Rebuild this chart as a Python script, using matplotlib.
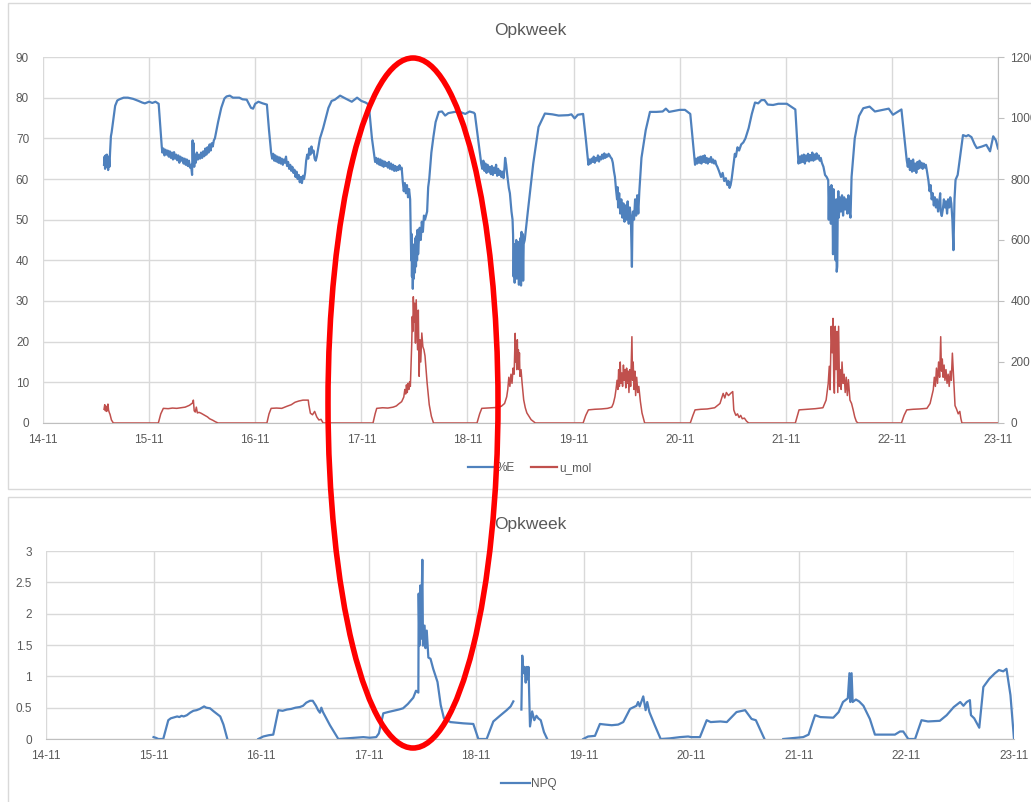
import numpy as np
import matplotlib
matplotlib.use("Agg")
import matplotlib.pyplot as plt
from matplotlib.lines import Line2D
from matplotlib.patches import Ellipse, Rectangle

# x axis: days after 14-11
date_labels = ["14-11", "15-11", "16-11", "17-11", "18-11",
               "19-11", "20-11", "21-11", "22-11", "23-11"]
title = "Opkweek"

# %E (left axis) as (day, value)
pct_e = [
    (0.575, 63.5), (0.580, 65.5), (0.585, 62.5), (0.590, 65.8), (0.596, 63.0), (0.602, 66.0),
    (0.608, 64.0), (0.614, 62.2), (0.620, 65.5), (0.626, 63.0), (0.632, 66.5),
    (0.640, 70.5), (0.647, 71.5), (0.660, 74.0), (0.680, 78.0), (0.700, 79.3), (0.720, 79.6),
    (0.760, 80.0), (0.800, 80.0), (0.850, 79.7), (0.900, 79.2), (0.935, 78.8), (0.960, 78.6),
    (1.000, 79.0), (1.030, 78.7), (1.060, 79.0), (1.090, 78.5), (1.105, 73.0), (1.119, 68.0),
    (1.125, 66.5), (1.135, 67.5), (1.145, 65.8), (1.155, 67.2), (1.165, 66.0), (1.175, 67.0),
    (1.185, 65.5), (1.195, 66.8), (1.205, 65.2), (1.215, 66.5), (1.225, 64.8), (1.235, 66.6),
    (1.245, 65.0), (1.255, 66.0), (1.265, 64.6), (1.275, 65.8), (1.285, 64.0), (1.295, 65.5),
    (1.305, 64.5), (1.315, 65.2), (1.325, 63.8), (1.335, 65.0), (1.345, 63.5), (1.355, 64.8),
    (1.365, 63.2), (1.375, 64.5), (1.385, 62.8), (1.395, 63.5), (1.405, 61.0), (1.410, 69.5),
    (1.415, 64.0), (1.420, 68.8), (1.425, 63.0), (1.432, 66.0), (1.440, 64.0), (1.450, 66.5),
    (1.460, 64.8), (1.470, 66.0), (1.480, 65.0), (1.490, 66.5), (1.500, 65.2), (1.510, 66.8),
    (1.520, 65.6), (1.530, 67.5), (1.540, 66.0), (1.550, 67.8), (1.560, 66.5), (1.570, 68.5),
    (1.580, 67.0), (1.590, 68.8), (1.600, 68.0), (1.610, 69.5), (1.620, 70.0), (1.650, 74.0),
    (1.680, 77.5), (1.710, 79.8), (1.730, 80.3), (1.760, 80.5), (1.790, 80.0), (1.850, 80.0),
    (1.880, 79.6), (1.920, 79.5), (1.960, 77.5), (1.980, 77.3), (2.000, 78.5), (2.030, 79.0),
    (2.070, 78.6), (2.110, 78.3), (2.130, 72.0), (2.150, 66.5),
    (2.160, 65.0), (2.170, 66.2), (2.180, 64.5), (2.190, 65.8), (2.200, 64.3), (2.210, 65.5),
    (2.220, 64.0), (2.230, 65.3), (2.240, 63.8), (2.250, 65.0), (2.260, 63.5), (2.270, 64.8),
    (2.280, 64.0), (2.290, 65.5), (2.300, 63.2), (2.310, 64.2), (2.320, 62.5), (2.330, 63.5),
    (2.340, 62.0), (2.350, 63.0), (2.360, 61.5), (2.370, 62.3), (2.380, 60.5), (2.390, 61.8),
    (2.400, 60.0), (2.410, 61.0), (2.420, 59.2), (2.430, 60.5), (2.440, 59.0), (2.450, 60.8),
    (2.460, 60.0), (2.470, 61.5), (2.480, 64.5), (2.490, 66.0), (2.500, 65.0), (2.510, 67.5),
    (2.520, 66.0), (2.530, 68.0), (2.540, 66.5), (2.550, 67.0), (2.560, 65.0), (2.570, 64.5),
    (2.580, 65.5), (2.590, 67.0), (2.600, 68.5), (2.610, 70.0), (2.620, 70.8), (2.640, 72.5),
    (2.660, 74.5), (2.690, 77.5), (2.720, 79.2), (2.750, 79.5), (2.800, 80.5), (2.850, 79.8),
    (2.910, 79.0), (2.960, 80.0), (3.000, 79.2), (3.040, 78.8), (3.070, 78.3), (3.100, 70.0),
    (3.130, 64.2), (3.140, 65.2), (3.150, 63.8), (3.160, 65.0), (3.170, 63.5), (3.180, 64.8),
    (3.190, 63.3), (3.200, 64.5), (3.210, 63.0), (3.220, 64.3), (3.230, 63.2), (3.240, 64.0),
    (3.250, 62.8), (3.260, 64.2), (3.270, 62.5), (3.280, 63.8), (3.290, 62.3), (3.300, 63.5),
    (3.310, 62.0), (3.320, 63.2), (3.330, 62.0), (3.340, 63.0), (3.350, 62.2), (3.360, 63.4),
    (3.370, 62.4), (3.380, 62.8), (3.390, 59.5), (3.400, 57.0), (3.410, 59.0), (3.420, 56.5),
    (3.430, 58.5), (3.440, 55.5), (3.450, 57.5), (3.460, 55.0), (3.465, 47.0), (3.470, 40.0),
    (3.473, 46.5), (3.477, 36.0), (3.480, 42.0), (3.485, 33.0), (3.490, 40.0), (3.495, 35.5),
    (3.500, 44.0), (3.505, 37.0), (3.510, 45.5), (3.515, 38.5), (3.520, 46.0), (3.525, 40.0),
    (3.530, 47.5), (3.535, 41.5), (3.540, 44.0), (3.550, 48.0), (3.560, 45.0), (3.570, 49.5),
    (3.580, 47.0), (3.590, 51.0), (3.600, 50.0), (3.620, 52.0), (3.630, 58.0), (3.640, 60.0),
    (3.660, 66.5), (3.680, 70.5), (3.700, 74.0), (3.730, 76.5), (3.760, 76.6), (3.790, 75.6),
    (3.820, 76.2), (3.880, 76.5), (3.940, 76.4), (3.980, 76.0), (4.020, 76.6), (4.060, 76.3),
    (4.070, 76.0), (4.100, 70.0), (4.130, 63.8),
    (4.140, 62.5), (4.150, 64.5), (4.160, 62.0), (4.170, 63.8), (4.180, 61.5), (4.190, 63.5),
    (4.200, 61.8), (4.210, 63.0), (4.220, 61.2), (4.230, 63.2), (4.240, 61.0), (4.250, 62.8),
    (4.260, 61.5), (4.270, 63.5), (4.280, 60.8), (4.290, 62.5), (4.300, 61.0), (4.310, 62.0),
    (4.320, 60.5), (4.330, 61.8), (4.340, 60.2), (4.350, 63.0), (4.355, 65.2), (4.365, 63.5),
    (4.375, 61.0), (4.390, 57.8), (4.400, 56.5), (4.415, 52.0), (4.425, 50.0), (4.430, 46.3),
    (4.435, 36.0), (4.440, 44.0), (4.445, 34.5), (4.450, 42.5), (4.455, 38.0), (4.460, 45.0),
    (4.465, 35.5), (4.470, 43.5), (4.475, 37.0), (4.480, 44.5), (4.485, 34.0), (4.490, 41.0),
    (4.495, 36.5), (4.500, 45.5), (4.505, 33.8), (4.510, 47.0), (4.515, 38.0), (4.520, 46.5),
    (4.525, 35.0), (4.530, 44.0), (4.540, 45.0), (4.570, 52.2), (4.620, 63.8), (4.670, 72.8),
    (4.730, 76.1), (4.800, 75.9), (4.860, 75.6), (4.950, 75.7), (4.980, 75.9), (5.010, 74.9),
    (5.040, 75.8), (5.090, 76.0), (5.115, 70.0), (5.140, 63.5),
    (5.150, 64.8), (5.160, 63.8), (5.170, 65.0), (5.180, 64.2), (5.190, 65.5), (5.200, 64.0),
    (5.210, 65.2), (5.220, 64.5), (5.230, 65.8), (5.240, 64.3), (5.250, 65.5), (5.260, 64.8),
    (5.270, 66.0), (5.280, 65.0), (5.290, 66.3), (5.300, 65.2), (5.310, 66.0), (5.320, 65.5),
    (5.330, 66.2), (5.340, 65.8), (5.350, 65.3), (5.360, 65.0), (5.370, 64.0), (5.380, 62.0),
    (5.390, 60.5), (5.400, 57.5), (5.410, 55.0), (5.415, 58.0), (5.420, 53.0), (5.430, 56.5),
    (5.440, 51.5), (5.450, 55.0), (5.460, 50.5), (5.470, 54.0), (5.480, 49.5), (5.490, 53.5),
    (5.500, 50.0), (5.510, 54.5), (5.520, 49.0), (5.530, 53.0), (5.540, 50.5), (5.550, 38.4),
    (5.555, 49.0), (5.560, 52.0), (5.570, 50.0), (5.580, 55.0), (5.590, 51.0), (5.600, 56.0),
    (5.610, 51.5), (5.620, 57.0), (5.640, 65.2), (5.680, 72.0), (5.720, 76.5), (5.780, 76.5),
    (5.840, 76.6), (5.870, 77.3), (5.900, 76.5), (5.960, 76.8), (6.000, 77.0), (6.050, 77.0),
    (6.100, 76.0), (6.145, 63.5),
    (6.155, 65.0), (6.165, 63.8), (6.175, 65.3), (6.185, 64.0), (6.195, 65.5), (6.205, 63.8),
    (6.215, 65.6), (6.225, 64.2), (6.235, 65.8), (6.245, 64.0), (6.255, 65.2), (6.265, 63.8),
    (6.275, 65.0), (6.285, 64.2), (6.295, 65.4), (6.305, 64.0), (6.315, 64.8), (6.325, 63.8),
    (6.335, 64.5), (6.345, 63.5), (6.355, 63.0), (6.370, 62.0), (6.390, 60.5), (6.405, 61.5),
    (6.420, 59.5), (6.435, 60.2), (6.450, 58.5), (6.460, 59.5), (6.470, 57.8), (6.480, 58.5),
    (6.490, 60.0), (6.520, 66.2), (6.530, 65.5), (6.545, 67.8), (6.560, 67.0), (6.580, 68.5),
    (6.600, 69.0), (6.620, 70.0), (6.650, 72.5), (6.680, 76.0), (6.710, 78.8), (6.740, 78.6),
    (6.770, 79.4), (6.800, 79.4), (6.830, 78.3), (6.880, 78.2), (6.930, 78.5), (7.010, 78.5),
    (7.050, 77.8), (7.090, 77.1), (7.120, 63.8),
    (7.130, 65.5), (7.140, 64.0), (7.150, 65.8), (7.160, 64.2), (7.170, 66.0), (7.180, 63.8),
    (7.190, 65.8), (7.200, 64.5), (7.210, 66.2), (7.220, 64.3), (7.230, 65.9), (7.240, 64.6),
    (7.250, 66.5), (7.260, 64.5), (7.270, 66.0), (7.280, 64.8), (7.290, 66.3), (7.300, 65.0),
    (7.310, 65.8), (7.320, 64.5), (7.330, 65.2), (7.340, 64.0), (7.355, 63.0), (7.370, 61.0),
    (7.385, 60.5), (7.400, 59.7), (7.405, 50.0), (7.410, 58.0), (7.420, 57.0), (7.425, 49.0),
    (7.430, 58.5), (7.440, 55.0), (7.445, 41.5), (7.450, 57.5), (7.458, 45.0), (7.465, 52.0),
    (7.470, 40.0), (7.475, 55.0), (7.480, 37.2), (7.485, 38.5), (7.490, 53.0), (7.495, 57.0),
    (7.500, 50.5), (7.510, 55.5), (7.520, 52.0), (7.530, 56.0), (7.540, 51.0), (7.550, 55.5),
    (7.560, 52.5), (7.570, 55.0), (7.580, 51.5), (7.590, 56.0), (7.600, 52.0), (7.610, 50.5),
    (7.620, 60.5), (7.650, 70.0), (7.690, 75.5), (7.730, 77.4), (7.790, 77.8), (7.840, 76.6),
    (7.970, 77.3), (8.010, 75.8), (8.090, 77.1), (8.140, 64.6),
    (8.150, 63.0), (8.160, 65.0), (8.170, 62.2), (8.180, 64.5), (8.190, 61.8), (8.200, 64.8),
    (8.210, 62.0), (8.220, 63.8), (8.230, 61.5), (8.240, 64.2), (8.250, 62.5), (8.260, 64.5),
    (8.270, 62.8), (8.280, 64.0), (8.290, 62.5), (8.300, 63.8), (8.310, 62.8), (8.320, 63.5),
    (8.330, 62.0), (8.345, 59.5), (8.355, 57.0), (8.365, 58.5), (8.375, 55.0), (8.385, 56.5),
    (8.395, 53.5), (8.405, 55.5), (8.415, 53.0), (8.425, 55.0), (8.435, 52.0), (8.445, 54.0),
    (8.455, 56.5), (8.460, 52.0), (8.470, 50.9), (8.480, 52.5), (8.490, 55.0), (8.500, 53.0),
    (8.510, 54.5), (8.520, 51.5), (8.530, 55.0), (8.540, 53.0), (8.550, 55.5), (8.560, 54.0),
    (8.570, 50.0), (8.575, 46.0), (8.580, 42.5), (8.590, 55.0), (8.600, 59.8), (8.620, 61.0),
    (8.640, 65.0), (8.670, 70.8), (8.700, 70.5), (8.720, 70.8), (8.750, 70.3), (8.780, 68.5),
    (8.800, 67.6), (8.850, 68.0), (8.890, 68.4), (8.925, 66.8), (8.955, 70.5), (8.980, 69.5),
    (9.000, 67.5),
]

# u_mol (right axis)
u_mol = [
    (0.575, 45), (0.582, 60), (0.588, 40), (0.594, 55), (0.600, 38), (0.607, 50), (0.612, 62),
    (0.618, 42), (0.624, 35), (0.632, 28), (0.645, 10), (0.663, 0), (1.087, 0), (1.110, 30),
    (1.134, 48), (1.180, 47), (1.220, 49), (1.260, 48), (1.300, 50), (1.340, 52), (1.380, 58),
    (1.410, 66), (1.417, 75), (1.425, 40), (1.435, 36), (1.445, 52), (1.455, 33), (1.470, 35),
    (1.490, 32), (1.510, 28), (1.530, 24), (1.550, 20), (1.570, 14), (1.600, 9), (1.625, 4),
    (1.650, 0), (2.110, 0), (2.130, 30), (2.150, 48), (2.200, 49), (2.250, 48), (2.300, 55),
    (2.340, 60), (2.375, 68), (2.410, 72), (2.450, 75), (2.500, 75), (2.505, 60), (2.520, 32),
    (2.540, 27), (2.560, 38), (2.580, 20), (2.600, 10), (2.620, 12), (2.640, 0), (3.110, 0),
    (3.130, 30), (3.145, 48), (3.200, 50), (3.250, 49), (3.300, 52), (3.330, 56), (3.350, 62),
    (3.380, 70), (3.400, 85), (3.410, 110), (3.418, 95), (3.425, 125), (3.433, 100), (3.440, 130),
    (3.448, 110), (3.455, 135), (3.462, 120), (3.468, 180), (3.475, 260), (3.480, 349),
    (3.485, 300), (3.490, 414), (3.497, 330), (3.503, 393), (3.510, 262), (3.517, 404),
    (3.524, 310), (3.530, 240), (3.537, 370), (3.545, 153), (3.552, 273), (3.560, 200),
    (3.570, 295), (3.580, 250), (3.590, 240), (3.600, 220), (3.620, 131), (3.640, 60),
    (3.660, 22), (3.680, 0), (4.090, 0), (4.115, 30), (4.135, 48), (4.180, 49), (4.230, 50),
    (4.280, 51), (4.320, 55), (4.350, 64), (4.370, 86), (4.380, 110), (4.390, 150), (4.400, 120),
    (4.410, 160), (4.420, 130), (4.430, 180), (4.440, 160), (4.450, 294), (4.455, 200),
    (4.460, 240), (4.465, 175), (4.470, 273), (4.475, 200), (4.480, 240), (4.485, 175),
    (4.490, 230), (4.495, 153), (4.505, 175), (4.515, 131), (4.530, 76), (4.545, 50),
    (4.560, 33), (4.580, 22), (4.600, 11), (4.640, 0), (5.090, 0), (5.115, 25), (5.140, 43),
    (5.200, 45), (5.260, 46), (5.320, 48), (5.360, 52), (5.375, 64), (5.390, 86), (5.400, 110),
    (5.410, 140), (5.418, 110), (5.425, 175), (5.432, 120), (5.440, 200), (5.447, 130),
    (5.455, 164), (5.462, 120), (5.470, 190), (5.477, 140), (5.485, 175), (5.492, 115),
    (5.500, 180), (5.507, 130), (5.515, 170), (5.522, 100), (5.530, 175), (5.538, 120),
    (5.550, 283), (5.556, 140), (5.562, 200), (5.570, 110), (5.578, 170), (5.585, 90),
    (5.595, 150), (5.605, 100), (5.615, 120), (5.630, 70), (5.645, 33), (5.670, 0), (6.100, 0),
    (6.125, 25), (6.145, 43), (6.200, 45), (6.260, 46), (6.330, 50), (6.380, 64), (6.410, 97),
    (6.425, 82), (6.440, 100), (6.460, 90), (6.480, 97), (6.500, 103), (6.510, 43), (6.520, 33),
    (6.530, 25), (6.545, 30), (6.560, 18), (6.575, 25), (6.590, 14), (6.610, 16), (6.630, 6),
    (6.650, 0), (7.090, 0), (7.110, 25), (7.125, 43), (7.200, 45), (7.280, 47), (7.350, 50),
    (7.380, 75), (7.400, 130), (7.410, 186), (7.418, 109), (7.428, 317), (7.437, 230),
    (7.445, 343), (7.452, 150), (7.458, 98), (7.466, 317), (7.474, 175), (7.482, 300),
    (7.490, 100), (7.498, 317), (7.506, 120), (7.514, 175), (7.522, 110), (7.530, 200),
    (7.540, 130), (7.550, 160), (7.560, 100), (7.570, 150), (7.580, 90), (7.590, 142),
    (7.605, 75), (7.620, 64), (7.635, 43), (7.650, 20), (7.665, 5), (7.680, 0), (8.090, 0),
    (8.115, 25), (8.140, 43), (8.200, 45), (8.260, 46), (8.330, 48), (8.360, 64), (8.390, 109),
    (8.400, 150), (8.410, 120), (8.420, 180), (8.430, 130), (8.440, 200), (8.450, 150),
    (8.460, 283), (8.467, 170), (8.475, 210), (8.483, 150), (8.492, 190), (8.500, 140),
    (8.510, 175), (8.520, 130), (8.530, 160), (8.540, 120), (8.550, 170), (8.560, 140),
    (8.570, 229), (8.580, 160), (8.595, 57), (8.610, 45), (8.625, 30), (8.640, 38), (8.650, 15),
    (8.660, 0), (9.000, 0),
]

# NPQ (lower chart), nan = gap in the series
npq = [
    (1.000, 0.03), (1.020, 0.02), (1.045, 0.0), (1.090, 0.0), (1.137, 0.30), (1.160, 0.33),
    (1.180, 0.34), (1.200, 0.35), (1.220, 0.36), (1.240, 0.35), (1.260, 0.37), (1.280, 0.36),
    (1.310, 0.38), (1.340, 0.42), (1.370, 0.45), (1.400, 0.46), (1.430, 0.48), (1.450, 0.50),
    (1.470, 0.52), (1.490, 0.50), (1.525, 0.49), (1.560, 0.44), (1.590, 0.40), (1.620, 0.36),
    (1.650, 0.23), (1.686, 0.0), (1.800, np.nan),
    (1.974, 0.0), (2.020, 0.04), (2.070, 0.06), (2.113, 0.07), (2.160, 0.46), (2.200, 0.45),
    (2.240, 0.47), (2.280, 0.48), (2.320, 0.50), (2.360, 0.51), (2.390, 0.53), (2.420, 0.58),
    (2.455, 0.61), (2.480, 0.61), (2.510, 0.53), (2.530, 0.46), (2.547, 0.42), (2.560, 0.50),
    (2.575, 0.43), (2.640, 0.22), (2.718, 0.0), (2.800, 0.01), (2.880, 0.02), (2.950, 0.03),
    (3.010, 0.02), (3.070, 0.03), (3.095, 0.09), (3.136, 0.41), (3.180, 0.43), (3.230, 0.45),
    (3.280, 0.47), (3.320, 0.49), (3.365, 0.56), (3.415, 0.66), (3.440, 0.77), (3.462, 0.74),
    (3.465, 2.32), (3.472, 1.49), (3.480, 2.45), (3.487, 1.60), (3.499, 2.86), (3.505, 1.49),
    (3.520, 1.81), (3.528, 1.45), (3.540, 1.73), (3.555, 1.30), (3.575, 1.28), (3.600, 1.12),
    (3.640, 0.91), (3.670, 0.54), (3.700, 0.33), (3.760, 0.27), (3.880, 0.25), (3.973, 0.24),
    (4.020, 0.0), (4.097, 0.0), (4.159, 0.28), (4.220, 0.37), (4.283, 0.46), (4.320, 0.52),
    (4.345, 0.60), (4.380, np.nan),
    (4.420, 0.47), (4.428, 1.33), (4.440, 1.05), (4.450, 1.15), (4.460, 0.90), (4.470, 1.15),
    (4.480, 0.95), (4.486, 1.15), (4.500, 0.20), (4.520, 0.44), (4.540, 0.30), (4.560, 0.37),
    (4.577, 0.33), (4.600, 0.30), (4.630, 0.11), (4.660, 0.0), (4.800, np.nan),
    (4.995, 0.0), (5.040, 0.04), (5.104, 0.05), (5.150, 0.24), (5.200, 0.23), (5.260, 0.22),
    (5.320, 0.23), (5.367, 0.27), (5.430, 0.48), (5.490, 0.53), (5.505, 0.59), (5.520, 0.52),
    (5.553, 0.68), (5.575, 0.46), (5.590, 0.59), (5.610, 0.43), (5.660, 0.22), (5.715, 0.0),
    (5.800, 0.01), (5.894, 0.03), (5.970, 0.04), (6.000, 0.03), (6.080, 0.03), (6.143, 0.30),
    (6.180, 0.27), (6.270, 0.28), (6.330, 0.27), (6.420, 0.43), (6.500, 0.46), (6.560, 0.32),
    (6.600, 0.30), (6.680, 0.0), (6.750, np.nan),
    (6.855, 0.0), (7.040, 0.03), (7.090, 0.07), (7.150, 0.38), (7.200, 0.35), (7.320, 0.34),
    (7.370, 0.43), (7.410, 0.59), (7.455, 0.65), (7.470, 1.05), (7.478, 0.59), (7.490, 1.05),
    (7.500, 0.59), (7.530, 0.63), (7.560, 0.60), (7.600, 0.53), (7.660, 0.32), (7.707, 0.07),
    (7.893, 0.07), (7.940, 0.12), (7.970, 0.12), (8.017, 0.0), (8.080, 0.0), (8.140, 0.30),
    (8.200, 0.28), (8.310, 0.29), (8.374, 0.38), (8.440, 0.51), (8.500, 0.59), (8.530, 0.53),
    (8.560, 0.59), (8.590, 0.62), (8.600, 0.38), (8.630, 0.33), (8.677, 0.18), (8.715, 0.83),
    (8.770, 0.96), (8.823, 1.05), (8.860, 1.10), (8.900, 1.08), (8.930, 1.12), (8.967, 0.70),
    (9.000, 0.0),
]

BLUE = "#4f81bd"
RED = "#c0504d"
GRID = "#d9d9d9"
TEXT = "#595959"

plt.rcParams["font.family"] = ["Liberation Sans", "DejaVu Sans"]

W, H = 1031, 802
fig = plt.figure(figsize=(W / 100, H / 100), dpi=100)


def fx(px):
    return px / W


def fy(py):
    return 1 - py / H


# chart frames (the two Excel chart areas)
fig.add_artist(Rectangle((fx(8), fy(489)), 1.2, fy(3) - fy(489), transform=fig.transFigure,
                         facecolor="white", edgecolor=GRID, lw=1, zorder=-5))
fig.add_artist(Rectangle((fx(8), fy(830)), 1.2, fy(497) - fy(830), transform=fig.transFigure,
                         facecolor="white", edgecolor=GRID, lw=1, zorder=-5))


def style_axes(ax, ylim, yticks):
    ax.set_facecolor("none")
    ax.set_xlim(0, 9)
    ax.set_ylim(*ylim)
    ax.set_xticks(range(len(date_labels)))
    ax.set_xticklabels(date_labels)
    ax.set_yticks(yticks)
    ax.grid(True, color=GRID, lw=1)
    ax.set_axisbelow(True)
    for s in ["top", "left", "right"]:
        ax.spines[s].set_visible(False)
    ax.spines["bottom"].set_color("#bfbfbf")
    ax.tick_params(axis="both", length=0, labelsize=8.5, labelcolor=TEXT)
    ax.tick_params(axis="x", pad=8)
    ax.tick_params(axis="y", pad=10)


# ---- top chart: %E and u_mol
ax1 = fig.add_axes([fx(43), fy(423), fx(998) - fx(43), fy(57) - fy(423)])
style_axes(ax1, (0, 90), range(0, 91, 10))
e = np.array(pct_e, dtype=float)
ax1.plot(e[:, 0], e[:, 1], color=BLUE, lw=1.6, solid_joinstyle="round")

ax2 = ax1.twinx()
ax2.set_ylim(0, 1200)
ax2.set_yticks(range(0, 1201, 200))
for s in ["top", "left", "bottom"]:
    ax2.spines[s].set_visible(False)
ax2.spines["right"].set_color("#bfbfbf")
ax2.tick_params(axis="y", length=4, color="#bfbfbf", labelsize=8.5, labelcolor=TEXT, pad=5)
u = np.array(u_mol, dtype=float)
ax2.plot(u[:, 0], u[:, 1], color=RED, lw=1.1)

ax1.set_title(title, fontsize=12.5, color=TEXT, pad=16, x=fx(530 - 43) / (fx(998) - fx(43)))
handles = [Line2D([], [], color=BLUE, lw=1.6), Line2D([], [], color=RED, lw=1.6)]
fig.legend(handles, ["%E", "u_mol"], loc="center", bbox_to_anchor=(fx(530), fy(468)),
           ncol=2, frameon=False, fontsize=8.5, labelcolor=TEXT,
           handlelength=2.2, handletextpad=0.2, columnspacing=1.4)

# ---- bottom chart: NPQ
ax3 = fig.add_axes([fx(46), fy(739), fx(1014) - fx(46), fy(551) - fy(739)])
style_axes(ax3, (0, 3), np.arange(0, 3.01, 0.5))
ax3.set_yticklabels(["0", "0.5", "1", "1.5", "2", "2.5", "3"])
n = np.array(npq, dtype=float)
ax3.plot(n[:, 0], n[:, 1], color=BLUE, lw=1.6, solid_joinstyle="round")
ax3.set_title(title, fontsize=12.5, color=TEXT, pad=16)
fig.legend([Line2D([], [], color=BLUE, lw=1.6)], ["NPQ"], loc="center",
           bbox_to_anchor=(fx(529), fy(784)), frameon=False, fontsize=8.5,
           labelcolor=TEXT, handlelength=2.4, handletextpad=0.1)

# red ellipse drawn over both charts
fig.add_artist(Ellipse((fx(413), fy(403)), fx(170), fy(55) - fy(745),
                       transform=fig.transFigure, fill=False, edgecolor="#ff0000",
                       lw=4, zorder=10))

fig.savefig("out.png", dpi=100)
